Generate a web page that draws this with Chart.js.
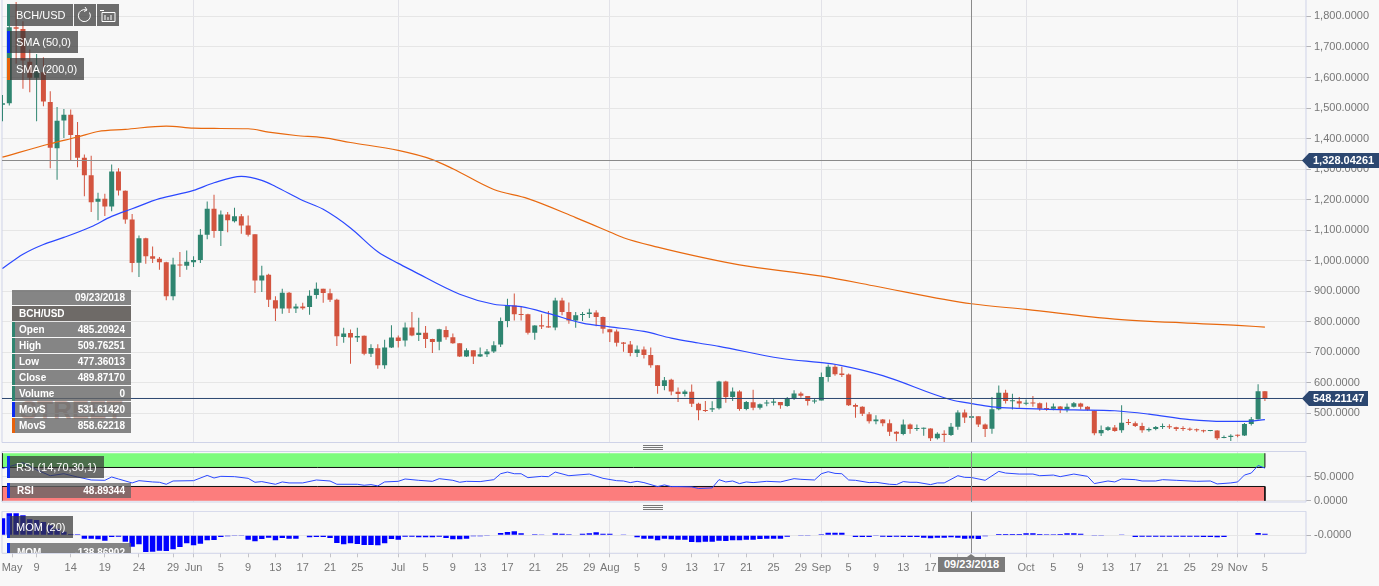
<!DOCTYPE html>
<html>
<head>
<meta charset="utf-8">
<title>BCH/USD</title>
<script src="https://cdn.jsdelivr.net/npm/chart.js@4"></script>
<style>
html, body { margin: 0; padding: 0; background: #f8f8f8; }
body { width: 1379px; height: 586px; position: relative; overflow: hidden; font-family: "Liberation Sans", Arial, sans-serif; }
canvas { position: absolute; left: 0; }
.box { position: absolute; left: 7px; height: 22px; line-height: 22px; background: rgba(55,55,55,.72); color: #fff; font-size: 11px; padding-left: 9px; box-sizing: border-box; }
.box i { position: absolute; left: 0; top: 0; bottom: 0; width: 3px; }
.btn { position: absolute; top: 4px; width: 22px; height: 22px; background: rgba(55,55,55,.72); }
.row { position: absolute; left: 12px; width: 119px; height: 15px; line-height: 15px; background: rgba(100,100,100,.78); color: #fff; font-size: 10px; font-weight: bold; }
.row b { position: absolute; left: 7px; }
.row span { position: absolute; right: 6px; }
.row i { position: absolute; left: 0; top: 0; bottom: 0; width: 3px; }
.grip { position: absolute; left: 643px; width: 20px; height: 5px; background: repeating-linear-gradient(#777 0 1px, transparent 1px 2px); }
#tagDate { position: absolute; left: 938px; top: 557px; width: 67px; height: 15px; line-height: 15px; background: #7b7b7b; color: #fff; font-size: 11px; font-weight: bold; text-align: center; }
#tagDate:before { content: ""; position: absolute; left: 29px; top: -3px; border-left: 4px solid transparent; border-right: 4px solid transparent; border-bottom: 3px solid #7b7b7b; }
#mark { position: absolute; left: 20px; top: 395px; font-size: 26px; font-weight: bold; color: rgba(150,70,50,.4); letter-spacing: 0; }
</style>
</head>
<body>
<div id="mark">STREET</div>
<canvas id="grafico" width="1379" height="444" style="top:0"></canvas>
<canvas id="graficoRsi" width="1379" height="60" style="top:451px"></canvas>
<canvas id="graficoMom" width="1379" height="75" style="top:511px"></canvas>

<div class="box" style="top:4px;width:66px;font-size:11px"><i style="background:#2f8570"></i>BCH/USD</div>
<div class="btn" style="left:74px"><svg width="22" height="22" fill="none" stroke="#fff"><path d="M15.5 8.5a6 6 0 1 1-3-2.5"/><path d="M11 3l2 3-3 1.5"/></svg></div>
<div class="btn" style="left:97px"><svg width="22" height="22" fill="none" stroke="#fff"><path d="M5 8.5h13v9H5zM8 11v5M11 13v3M14 11v5M3 6.5h4"/></svg></div>
<div class="box" style="top:31px;width:71px"><i style="background:#0a2cf0"></i>SMA (50,0)</div>
<div class="box" style="top:58px;width:77px"><i style="background:#e8610a"></i>SMA (200,0)</div>

<div class="row" style="top:290px"><span>09/23/2018</span></div>
<div class="row" style="top:306px;background:rgba(90,85,82,.88)"><b>BCH/USD</b></div>
<div class="row" style="top:322px"><i style="background:#2f8570"></i><b>Open</b><span>485.20924</span></div>
<div class="row" style="top:338px"><i style="background:#2f8570"></i><b>High</b><span>509.76251</span></div>
<div class="row" style="top:354px"><i style="background:#2f8570"></i><b>Low</b><span>477.36013</span></div>
<div class="row" style="top:370px"><i style="background:#2f8570"></i><b>Close</b><span>489.87170</span></div>
<div class="row" style="top:386px"><i style="background:#2f8570"></i><b>Volume</b><span>0</span></div>
<div class="row" style="top:402px"><i style="background:#0a2cf0"></i><b>MovS</b><span>531.61420</span></div>
<div class="row" style="top:418px"><i style="background:#e8610a"></i><b>MovS</b><span>858.62218</span></div>

<div class="box" style="top:456px;width:97px"><i style="background:#0a2cf0"></i>RSI (14,70,30,1)</div>
<div class="row" style="left:7px;width:124px;top:483px"><i style="background:#0a2cf0"></i><b style="left:10px">RSI</b><span>48.89344</span></div>
<div class="box" style="top:516px;width:66px"><i style="background:#0a2cf0"></i>MOM (20)</div>
<div class="row" style="left:7px;width:124px;top:543px;height:10px;overflow:hidden"><i style="background:#0a2cf0"></i><b style="left:10px;top:2px">MOM</b><span style="top:2px">-138.86902</span></div>

<div class="grip" style="top:445px"></div>
<div class="grip" style="top:505px"></div>
<div id="tagDate">09/23/2018</div>

<script>
// velas diarias, de 4 maio ate 5 nov (cada linha e um mes)
const opens = [
    1511,1516,1765,1759,1652,1599,1617,1520,1368,1459,1478,1412,1337,1280,1193,1203,1177,1292,1229,1135,993,1073,1014,1006,995,883,987,983,
    995,1002,1085,1170,1097,1151,1129,1145,1115,1086,935,954,870,843,895,843,850,848,887,908,893,872,750,763,748,754,695,713,657,715,
    748,738,781,756,764,743,734,773,749,729,686,706,686,693,702,725,802,853,825,824,764,788,785,781,869,832,804,822,825,830,815,
    775,768,732,725,697,709,691,657,589,610,570,563,570,531,510,512,516,604,553,571,514,536,518,532,534,537,524,550,565,556,538,
    542,619,652,630,627,527,521,497,474,479,467,439,432,463,448,449,450,418,433,429,456,502,485.2,490,463,449,513,567,539,539,
    531,534,533,516,515,522,512,521,532,521,508,434,445,453,444,470,467,458,444,448,455,456,454,450,449,446,444,442,443,419,422,
    427,427,465,480,572
]
const highs = [
    1543,1776,1847,1784,1692,1677,1666,1555,1503,1497,1495,1454,1348,1344,1222,1219,1315,1303,1230,1153,1082,1075,1046,1012,996,1009,1028,1033,
    1014,1104,1194,1216,1164,1159,1173,1153,1148,1086,983,957,883,908,897,859,862,903,928,908,908,875,780,774,780,755,726,726,741,788,
    755,797,832,813,786,744,777,785,761,729,713,706,715,710,736,814,875,892,848,826,788,824,835,878,878,863,832,832,842,837,817,
    776,774,733,737,722,719,715,657,619,613,584,577,594,534,540,539,606,606,584,575,540,577,532,543,547,537,553,575,570,556,547,
    633,660,660,652,630,532,523,504,493,481,479,441,479,466,463,453,451,438,444,468,510,512,509.8,490,466,553,591,577,564,553,
    545,556,535,535,532,524,532,537,534,523,510,460,457,461,526,481,473,469,453,458,466,464,456,457,453,450,446,444,444,427,431,
    430,468,488,595,573
]
const lows = [
    1457,1508,1645,1563,1552,1457,1506,1303,1265,1402,1330,1306,1211,1159,1132,1146,1162,1213,1121,962,946,990,992,970,870,870,946,970,
    979,992,1070,1075,1048,1093,1125,1088,1079,894,897,848,802,826,828,828,839,823,875,862,864,720,731,662,733,690,684,646,646,714,
    715,719,752,737,714,697,706,741,728,684,684,661,684,684,697,717,782,804,804,758,741,776,780,772,821,793,780,802,812,785,761,
    733,719,701,687,684,679,649,564,575,559,537,555,520,477,504,504,512,534,540,508,510,510,512,523,525,515,521,543,551,525,532,
    542,603,623,619,524,485,491,466,464,457,425,408,428,433,442,426,409,414,406,425,446,468,477.4,455,422,433,510,532,512,518,
    526,521,508,508,510,501,503,519,512,508,428,425,442,439,436,461,455,436,439,444,448,448,442,442,442,439,437,441,412,418,409,
    421,425,460,479,540
]
const closes = [
    1516,1765,1760,1656,1599,1617,1521,1370,1458,1478,1412,1337,1280,1191,1203,1177,1292,1230,1135,992,1073,1014,1006,995,883,987,984,996,
    1002,1085,1170,1097,1151,1132,1145,1115,1085,935,951,872,843,895,843,850,844,885,908,894,872,752,761,748,753,695,714,657,715,748,
    737,781,755,764,743,733,775,749,729,686,706,686,693,702,723,802,853,824,822,764,787,784,781,869,832,804,821,825,830,815,777,
    765,731,728,697,709,691,657,589,608,571,563,571,531,510,507,516,604,553,571,514,537,518,529,535,538,526,548,565,557,540,541,
    619,652,628,625,526,521,498,474,479,467,439,433,463,448,451,451,418,433,429,456,502,486,489.9,463,448,513,567,540,541,532,
    534,532,515,514,522,512,521,533,521,511,434,445,454,442,469,468,458,444,448,455,457,454,448,448,446,444,441,443,418,422,426,
    426,465,480,572,548.2
]

// medias moveis
const sma50Dias = [0,3,6,9,13,16,19,23,28,31,35,38,40,44,47,51,55,58,60,67,72,76,80,85,89,94,98,102,105,114,121,123,129,139,142,145,149,157,163,168,174,179,182,185]
const sma50 = [974,1021,1053,1076,1111,1145,1170,1203,1230,1255,1276,1263,1243,1197,1168,1107,1029,991,968,890,857,849,827,795,783,768,746,730,719,680,663,656,623,544,531.6,521,516,511,508,497,479,473,473,479]
const sma200Dias = [0,7,11,14,18,24,28,31,36,39,43,47,51,58,63,66,72,77,84,89,91,96,103,108,120,128,138,142,150,163,181,185]
const sma200 = [1339,1383,1405,1423,1430,1441,1434,1433,1432,1421,1410,1403,1387,1361,1331,1301,1233,1203,1141,1094,1075,1044,1008,986,949,916,873,858.6,840,808,788,782]

const rsiDias = [0,3,5,7,9,11,13,15,16,17,19,20,22,23,24,25,28,30,31,32,34,36,37,38,40,41,42,44,46,48,49,52,53,54,55,56,58,59,61,63,64,66,67,68,70,72,73,74,75,76,77,79,80,81,83,86,88,90,91,92,93,94,96,97,98,99,101,102,104,105,106,107,108,109,110,112,114,116,117,119,120,121,122,123,124,125,127,128,130,131,132,133,134,136,137,138,140,141,142,144,146,147,149,151,152,154,155,157,159,160,162,163,164,166,167,169,170,172,175,177,178,180,181,182,183,184,185]
const rsi = [68,80,65,52.7,56.9,50,43.7,43,50,45.8,37.5,42.3,39.6,38.9,34.7,41.6,42.3,53.4,47.9,51.4,50.7,47.2,38.9,40.3,34.7,39.6,37.5,37.5,43.7,41.6,34.7,34.7,32.6,34,31.2,39.6,40.9,45.8,43,40.9,46.5,43,38.9,40.9,40.3,44.4,56.9,60.4,56.9,56.9,48.6,51.4,50.7,60.4,52.7,56.2,47.2,42.3,41.6,38.2,40.9,38.2,29.8,33.3,29.8,29.8,29.2,25.7,27.1,44.4,39.6,41.6,36.1,39.6,38.2,40.9,39.6,46.5,45.1,43.7,56.9,61.1,57.6,56.9,43.7,43,38.2,38.9,34.7,34,40.3,38.9,38.9,34,37.5,37.5,52.7,49.3,48.9,43,61.8,58.3,56.2,56.2,52.7,54.1,50.7,56.2,51.4,36.1,41.6,39.6,45.8,44.4,41.6,41.6,44.4,43,40.9,41.6,35.4,37.5,39.6,54.1,58.3,74.3,68.7]

const mom = [
    714,924,924,840,672,644,560,420,280,154,56,42,-140,-140,-168,-224,-70,-56,-266,-476,-378,-700,-686,-644,-658,-588,-490,-336,
    -420,-350,-210,-196,-70,-42,-28,-28,-182,-252,-154,-98,-210,-112,-140,-140,-14,-84,-70,-70,-112,-322,-378,-336,-364,-406,-406,-420,-336,-154,
    -182,-56,-56,-84,-84,-84,-56,-112,-168,-168,-140,-42,-42,-28,-14,98,140,168,84,28,42,14,28,84,70,42,28,70,84,126,70,70,28,
    14,-14,-84,-140,-140,-210,-140,-168,-182,-182,-280,-294,-266,-266,-224,-238,-210,-210,-182,-182,-154,-140,-140,-140,-56,-14,-28,-28,-14,
    42,112,112,112,28,-70,-70,-70,-28,-56,-70,-56,-70,-70,-70,-98,-126,-98,-98,-84,-98,-140,-138.87,-154,-42,0,56,56,56,56,
    84,84,56,42,42,56,84,84,70,28,-28,-28,-14,-14,14,-14,-70,-56,-56,-56,-56,-56,-56,-56,-56,-56,-70,-70,-84,-70,-14,
    -14,-14,28,98,70
]

const tickDias = [1.4,5,10,15,20,25,28,32,36,40,44,48,52,58,62,66,70,74,78,82,86,89,93,97,101,105,109,113,117,120,124,128,132,136,140,144,150,154,158,162,166,170,174,178,181,185]
const tickTextos = ["May","9","14","19","24","29","Jun","5","9","13","17","21","25","Jul","5","9","13","17","21","25","29","Aug","5","9","13","17","21","25","29","Sep","5","9","13","17","21","25","Oct","5","9","13","17","21","25","29","Nov","5"]
const precoTicks = [500,600,700,800,900,1000,1100,1200,1300,1400,1500,1600,1700,1800]

const diaCruz = 142
const precoCruz = 1328.04261
const precoAtual = 548.21147
const rsiAlto = 70
const rsiBaixo = 30

const xMin = -0.07
const xMax = 191.02
const precoMin = 404.04
const precoMax = 1853.94
const ultimoDia = opens.length - 1
const fonte = '"Liberation Sans", Arial, sans-serif'

const verde = "#2f8570"
const vermelho = "#d3543f"
const corCandle = opens.map((o, i) => closes[i] >= o ? verde : vermelho)

function pares(dias, valores) {
    return dias.map((d, i) => ({ x: d, y: valores[i] }))
}

function linha(dados, cor, largura, ordem) {
    return { type: "line", data: dados, borderColor: cor, borderWidth: largura, pointRadius: 0, tension: 0, order: ordem, fill: false }
}

function media(dias, valores, cor) {
    return { ...linha(pares(dias, valores), cor, 1.2, 2), cubicInterpolationMode: "monotone" }
}

function cruz(yMin, yMax) {
    return linha([{ x: diaCruz, y: yMin }, { x: diaCruz, y: yMax }], "#8a8a8a", 1, 0)
}

// eixo x igual nos tres paineis, so o ultimo mostra os textos
function eixoX(comTextos) {
    return {
        type: "linear",
        min: xMin,
        max: xMax,
        offset: false,
        afterBuildTicks: scale => { scale.ticks = tickDias.map(d => ({ value: d })) },
        afterFit: scale => {
            scale.height = comTextos ? 32.7 : 0
            scale.paddingLeft = 0
            scale.paddingRight = 0
        },
        border: { display: false },
        grid: {
            offset: false,
            drawTicks: comTextos,
            tickLength: 4,
            tickColor: "#c4c4c8",
            color: ctx => {
                const pos = ctx.tick ? tickDias.indexOf(ctx.tick.value) : -1
                return pos > 0 && isNaN(tickTextos[pos]) ? "#e2e2e8" : "rgba(0,0,0,0)"
            }
        },
        ticks: {
            display: comTextos,
            autoSkip: false,
            maxRotation: 0,
            padding: 4,
            color: "#777",
            font: { family: fonte, size: 11 },
            callback: v => tickTextos[tickDias.indexOf(v)]
        }
    }
}

function eixoY(min, max, valores, formato) {
    return {
        type: "linear",
        position: "right",
        min: min,
        max: max,
        afterBuildTicks: scale => { scale.ticks = valores.map(v => ({ value: v })) },
        afterFit: scale => {
            scale.width = 73
            // sem isso o chart.js encolhe a area por causa da altura do texto
            scale.paddingTop = 0
            scale.paddingBottom = 0
        },
        border: { display: false },
        grid: { color: "#e6e6e6", tickLength: 5, tickColor: "#b4b4b8" },
        ticks: {
            padding: 3,
            color: "#777",
            font: { family: fonte, size: 11 },
            callback: formato
        }
    }
}

// moldura lilas em volta da area do painel
function moldura(semTopo) {
    return {
        id: "moldura",
        beforeDatasetsDraw(chart) {
            const { left, right, top, bottom } = chart.chartArea
            const c = chart.ctx
            c.save()
            c.strokeStyle = "#cfd3e8"
            c.lineWidth = 1
            c.beginPath()
            if (!semTopo) {
                c.moveTo(left, top)
                c.lineTo(right, top)
            }
            c.moveTo(left, top)
            c.lineTo(left, bottom)
            c.lineTo(right, bottom)
            c.lineTo(right, top)
            c.stroke()
            c.restore()
        }
    }
}

function etiqueta(c, texto, y, fim) {
    c.font = "bold 11px " + fonte
    c.fillStyle = "#2c4770"
    c.beginPath()
    c.moveTo(1302, y)
    c.lineTo(1309, y - 7.5)
    c.lineTo(fim, y - 7.5)
    c.lineTo(fim, y + 7.5)
    c.lineTo(1309, y + 7.5)
    c.closePath()
    c.fill()
    c.fillStyle = "#fff"
    c.textBaseline = "middle"
    c.fillText(texto, 1313, y + 0.5)
}

const etiquetasPreco = {
    id: "etiquetasPreco",
    afterDraw(chart) {
        const c = chart.ctx
        const y = chart.scales.y
        c.save()
        etiqueta(c, precoCruz.toLocaleString("en-US", { minimumFractionDigits: 5 }), y.getPixelForValue(precoCruz), 1379)
        etiqueta(c, precoAtual.toFixed(5), y.getPixelForValue(precoAtual), 1368)
        c.restore()
    }
}

const semAnimacao = {
    responsive: false,
    animation: false,
    events: [],
    devicePixelRatio: 1,
    plugins: { legend: { display: false }, tooltip: { enabled: false } }
}

// grafico principal (velas + medias)
new Chart(document.getElementById("grafico"), {
    type: "bar",
    data: {
        datasets: [
            {
                data: opens.map((_, i) => ({ x: i, y: [lows[i], highs[i]] })),
                backgroundColor: corCandle,
                grouped: false,
                maxBarThickness: 1,
                barPercentage: 1,
                order: 4
            },
            {
                data: opens.map((o, i) => ({ x: i, y: [o, closes[i]] })),
                backgroundColor: corCandle,
                grouped: false,
                maxBarThickness: 5,
                barPercentage: 1,
                minBarLength: 1,
                order: 3
            },
            media(sma200Dias, sma200, "#e8690f"),
            media(sma50Dias, sma50, "#2b48ff"),
            linha([{ x: xMin, y: precoAtual }, { x: xMax, y: precoAtual }], "#2c4770", 1, 1),
            linha([{ x: xMin, y: precoCruz }, { x: xMax, y: precoCruz }], "#8a8a8a", 1, 1),
            cruz(precoMin, precoMax)
        ]
    },
    options: {
        ...semAnimacao,
        layout: { autoPadding: false, padding: { left: 2, right: 0, top: 0, bottom: 1.5 } },
        scales: {
            x: eixoX(false),
            y: eixoY(precoMin, precoMax, precoTicks, v => v.toLocaleString("en-US", { minimumFractionDigits: 4 }))
        }
    },
    plugins: [moldura(true), etiquetasPreco]
})

// RSI com as faixas 70 e 30
new Chart(document.getElementById("graficoRsi"), {
    type: "line",
    data: {
        datasets: [
            {
                ...linha([{ x: xMin, y: 100 }, { x: xMin, y: rsiAlto }, { x: ultimoDia, y: rsiAlto }, { x: ultimoDia, y: 100 }], "#111", 1, 3),
                fill: { value: 100 },
                backgroundColor: "#7dfc7d"
            },
            {
                ...linha([{ x: xMin, y: 0 }, { x: xMin, y: rsiBaixo }, { x: ultimoDia, y: rsiBaixo }, { x: ultimoDia, y: 0 }], "#111", 1, 3),
                fill: { value: 0 },
                backgroundColor: "#fc7d7d"
            },
            linha(pares(rsiDias, rsi), "#2b48ff", 1, 2),
            cruz(-3, 104)
        ]
    },
    options: {
        ...semAnimacao,
        layout: { autoPadding: false, padding: { left: 2, right: 0, top: 0.5, bottom: 9 } },
        scales: {
            x: eixoX(false),
            y: eixoY(-2.63, 103.68, [0, 50], v => v.toFixed(4))
        }
    },
    plugins: [moldura(false)]
})

// momentum em barras
new Chart(document.getElementById("graficoMom"), {
    type: "bar",
    data: {
        datasets: [
            {
                data: mom.map((v, i) => ({ x: i, y: v })),
                backgroundColor: "#0000ff",
                grouped: false,
                maxBarThickness: 5.4,
                barPercentage: 1,
                order: 2
            },
            cruz(-756, 1008)
        ]
    },
    options: {
        ...semAnimacao,
        layout: { autoPadding: false, padding: { left: 2, right: 0, top: 0.3, bottom: 0 } },
        scales: {
            x: eixoX(true),
            y: eixoY(-756, 1008, [0], () => "-0.0000")
        }
    },
    plugins: [moldura(false)]
})
</script>
</body>
</html>
